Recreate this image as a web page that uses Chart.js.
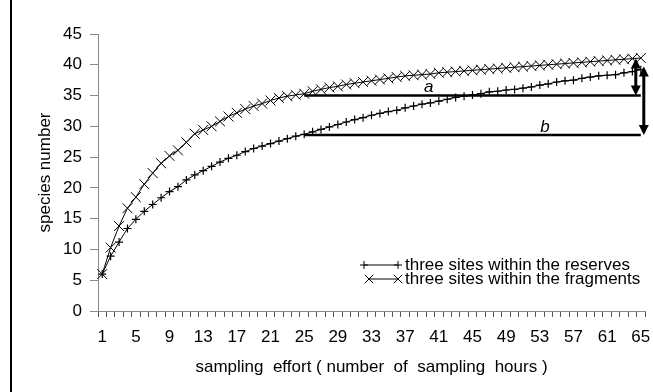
<!DOCTYPE html>
<html>
<head>
<meta charset="utf-8">
<script src="https://cdn.jsdelivr.net/npm/chart.js@4.4.1/dist/chart.umd.min.js"></script>
<style>
  html, body { margin: 0; padding: 0; background: #fff; }
  #wrap { position: relative; width: 653px; height: 392px; }
  #frame { position: absolute; left: 10px; top: 0; width: 2px; height: 392px; background: #000; }
  canvas { position: absolute; left: 0; top: 0; }
</style>
</head>
<body>
<div id="wrap">
  <canvas id="curveChart" width="653" height="392"></canvas>
  <div id="frame"></div>
</div>
<script>
// Courbes d'accumulation des espèces
const hours = [];
for (let h = 1; h <= 65; h++) hours.push(String(h));

const reserves = [
  6.0, 8.9, 11.2, 13.4, 14.9, 16.2, 17.3, 18.4, 19.4, 20.2,
  21.3, 22.1, 22.8, 23.5, 24.2, 24.8, 25.3, 25.9, 26.4, 26.8,
  27.2, 27.6, 28.0, 28.4, 28.7, 29.1, 29.5, 29.9, 30.3, 30.7,
  31.1, 31.4, 31.8, 32.1, 32.4, 32.6, 33.0, 33.3, 33.6, 33.8,
  34.1, 34.4, 34.7, 34.9, 35.1, 35.3, 35.6, 35.7, 35.9, 36.0,
  36.2, 36.4, 36.7, 36.9, 37.2, 37.4, 37.5, 37.8, 38.0, 38.2,
  38.3, 38.4, 38.7, 38.9, 39.2
];

const fragments = [
  6.0, 10.3, 13.8, 16.7, 18.5, 20.6, 22.4, 24.0, 25.2, 26.1,
  27.4, 28.8, 29.4, 30.0, 30.8, 31.6, 32.2, 32.8, 33.3, 33.7,
  34.2, 34.6, 34.9, 35.1, 35.3, 35.7, 36.0, 36.3, 36.5, 36.8,
  37.0, 37.2, 37.4, 37.6, 37.8, 38.0, 38.2, 38.3, 38.4, 38.5,
  38.7, 38.8, 38.9, 39.0, 39.1, 39.2, 39.3, 39.4, 39.5, 39.6,
  39.7, 39.8, 39.9, 40.0, 40.1, 40.2, 40.3, 40.4, 40.5, 40.6,
  40.7, 40.8, 40.9, 41.0, 41.1
];

// niveaux de référence a et b, depuis la 25e heure
const refStart = 24;
const refLevels = [35, 28.6];
const refNames = ['a', 'b'];
const refNamePos = [[38.8, 36.3], [52.6, 29.9]];
// doubles flèches (haut, bas)
const arrowA = [41.0, 35];
const arrowB = [39.7, 28.6];

const legendRows = [
  { style: 'cross', radius: 4, text: 'three sites within the reserves' },
  { style: 'crossRot', radius: 6, text: 'three sites within the fragments' }
];

const FONT = 'Liberation Sans, Arial, sans-serif';
const FS = 17;

function arrowHead(ctx, x, y, dir) {
  ctx.beginPath();
  ctx.moveTo(x, y);
  ctx.lineTo(x - 5, y - dir * 10);
  ctx.lineTo(x + 5, y - dir * 10);
  ctx.closePath();
  ctx.fill();
}

function doubleArrow(ctx, x, yTop, yBot) {
  ctx.lineWidth = 3;
  ctx.beginPath();
  ctx.moveTo(x, yTop + 8);
  ctx.lineTo(x, yBot - 8);
  ctx.stroke();
  arrowHead(ctx, x, yTop, -1);
  arrowHead(ctx, x, yBot, 1);
}

const annotations = {
  id: 'annotations',
  afterDatasetsDraw(chart) {
    const { ctx, chartArea } = chart;
    const x = chart.scales.x;
    const y = chart.scales.y;
    ctx.save();
    ctx.strokeStyle = '#000';
    ctx.fillStyle = '#000';

    // lignes a et b
    ctx.lineWidth = 2.5;
    refLevels.forEach(v => {
      ctx.beginPath();
      ctx.moveTo(x.getPixelForValue(refStart), y.getPixelForValue(v));
      ctx.lineTo(x.getPixelForValue(hours.length - 1), y.getPixelForValue(v));
      ctx.stroke();
    });
    ctx.font = 'italic ' + FS + 'px ' + FONT;
    ctx.textAlign = 'center';
    ctx.textBaseline = 'middle';
    refNames.forEach((n, i) => {
      ctx.fillText(n, x.getPixelForValue(refNamePos[i][0]), y.getPixelForValue(refNamePos[i][1]));
    });

    const xEnd = x.getPixelForValue(hours.length - 1);
    doubleArrow(ctx, xEnd - 5, y.getPixelForValue(arrowA[0]), y.getPixelForValue(arrowA[1]));
    doubleArrow(ctx, xEnd + 3, y.getPixelForValue(arrowB[0]), y.getPixelForValue(arrowB[1]));

    // légende
    ctx.font = FS + 'px ' + FONT;
    ctx.textAlign = 'left';
    ctx.lineWidth = 1;
    legendRows.forEach((row, i) => {
      const ly = chartArea.bottom - 46 + i * 14;
      const x0 = i === 0 ? 364 : 369, x1 = 398;
      ctx.beginPath();
      ctx.moveTo(x0, ly);
      ctx.lineTo(x1, ly);
      ctx.stroke();
      const ps = { pointStyle: row.style, radius: row.radius, borderWidth: 1 };
      Chart.helpers.drawPoint(ctx, ps, x0, ly);
      Chart.helpers.drawPoint(ctx, ps, x1, ly);
      ctx.fillText(row.text, 405, ly);
    });
    ctx.restore();
  }
};

const ctx = document.getElementById('curveChart').getContext('2d');
new Chart(ctx, {
  type: 'line',
  data: {
    labels: hours,
    datasets: [{
      label: 'three sites within the reserves',
      data: reserves,
      borderColor: '#000',
      borderWidth: 1,
      pointStyle: 'cross',
      pointRadius: 4,
      pointBorderColor: '#000',
      pointBorderWidth: 1.2,
      tension: 0
    }, {
      label: 'three sites within the fragments',
      data: fragments,
      borderColor: '#000',
      borderWidth: 1,
      pointStyle: 'crossRot',
      pointRadius: 7,
      pointBorderColor: '#000',
      pointBorderWidth: 1,
      tension: 0
    }]
  },
  options: {
    responsive: false,
    animation: false,
    layout: {
      padding: { left: 0, top: 34, right: 6, bottom: 0 }
    },
    plugins: {
      legend: { display: false },
      tooltip: { enabled: false }
    },
    scales: {
      x: {
        offset: true,
        grid: {
          offset: true,
          drawOnChartArea: false,
          drawTicks: true,
          tickLength: 6,
          color: '#555'
        },
        border: { color: '#888', width: 1 },
        ticks: {
          autoSkip: false,
          maxRotation: 0,
          color: '#000',
          padding: 10,
          font: { family: FONT, size: FS },
          callback: (value, i) => (i % 4 === 0 ? hours[i] : '')
        },
        title: {
          display: true,
          text: 'sampling  effort ( number  of  sampling  hours )',
          color: '#000',
          font: { family: FONT, size: FS },
          padding: { top: 0, bottom: 14 }
        },
        afterFit: scale => {
          scale.height = 81;
          scale.paddingLeft = 0;
          scale.paddingRight = 0;
        }
      },
      y: {
        min: 0,
        max: 45,
        grid: {
          drawOnChartArea: false,
          drawTicks: true,
          tickLength: 8,
          color: '#888'
        },
        border: { color: '#888', width: 1 },
        ticks: {
          stepSize: 5,
          color: '#000',
          padding: 8,
          font: { family: FONT, size: FS }
        },
        title: {
          display: true,
          text: 'species number',
          color: '#000',
          font: { family: FONT, size: FS },
          padding: { top: 35, bottom: 0 }
        },
        afterFit: scale => {
          scale.width = 98;
        }
      }
    }
  },
  plugins: [annotations]
});
</script>
</body>
</html>
